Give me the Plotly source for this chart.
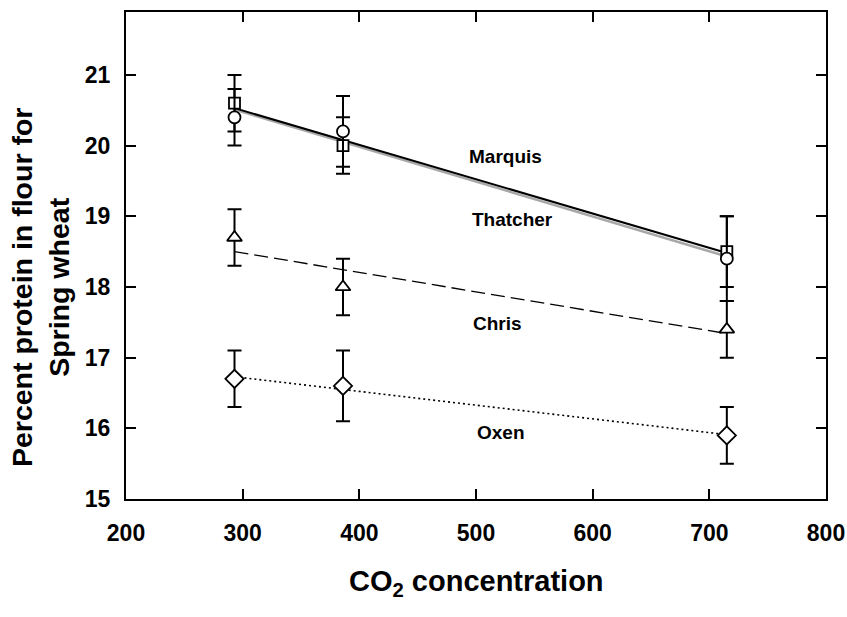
import plotly.graph_objects as go

co2 = [293, 386, 715]
fit_x = [293, 715]

marquis = [20.6, 20.0, 18.5]
marquis_err = [0.4, 0.4, 0.5]
marquis_fit = [20.53, 18.48]

thatcher = [20.4, 20.2, 18.4]
thatcher_err = [0.4, 0.5, 0.6]
thatcher_fit = [20.51, 18.43]

chris = [18.7, 18.0, 17.4]
chris_err = [0.4, 0.4, 0.4]
chris_fit = [18.50, 17.34]

oxen = [16.7, 16.6, 15.9]
oxen_err = [0.4, 0.5, 0.4]
oxen_fit = [16.73, 15.91]

x_ticks = [200, 300, 400, 500, 600, 700, 800]
y_ticks = [15, 16, 17, 18, 19, 20, 21]

labels = ["Marquis", "Thatcher", "Chris", "Oxen"]
label_x = [525, 531, 518, 521]
label_y = [19.84, 18.96, 17.49, 15.94]

FONT = "Liberation Sans, Arial, sans-serif"

fig = go.Figure()

# regression lines
fig.add_trace(go.Scatter(x=fit_x, y=thatcher_fit, mode="lines",
                         line=dict(color="#a8a8a8", width=2.5), hoverinfo="skip"))
fig.add_trace(go.Scatter(x=fit_x, y=marquis_fit, mode="lines",
                         line=dict(color="black", width=2), hoverinfo="skip"))
fig.add_trace(go.Scatter(x=fit_x, y=chris_fit, mode="lines",
                         line=dict(color="black", width=1.3, dash="14px,6px"), hoverinfo="skip"))
fig.add_trace(go.Scatter(x=fit_x, y=oxen_fit, mode="lines",
                         line=dict(color="black", width=1.6, dash="2px,3px"), hoverinfo="skip"))

def pts(y, err, symbol, size):
    return go.Scatter(
        x=co2, y=y, mode="markers",
        marker=dict(symbol=symbol, size=size, color="white",
                    line=dict(color="black", width=1.8)),
        error_y=dict(type="data", array=err, visible=True,
                     color="black", thickness=2, width=7),
    )

fig.add_trace(pts(marquis, marquis_err, "square", 11))
fig.add_trace(pts(thatcher, thatcher_err, "circle", 12))
fig.add_trace(pts(chris, chris_err, "triangle-up", 13))
fig.add_trace(pts(oxen, oxen_err, "diamond", 14))

for t, lx, ly in zip(labels, label_x, label_y):
    fig.add_annotation(x=lx, y=ly, text=f"<b>{t}</b>", showarrow=False,
                       font=dict(family=FONT, size=19, color="black"),
                       xanchor="center", yanchor="middle")

# axis titles
fig.add_annotation(xref="paper", yref="paper", x=-0.123, y=0.435,
                   text="<b>Percent protein in flour for<br>Spring wheat</b>",
                   textangle=-90, showarrow=False,
                   font=dict(family=FONT, size=28.5, color="black"),
                   xanchor="center", yanchor="middle")
fig.add_annotation(xref="paper", yref="paper", x=0.501, y=-0.172,
                   text="<b>CO<sub>2</sub> concentration</b>",
                   showarrow=False,
                   font=dict(family=FONT, size=29, color="black"),
                   xanchor="center", yanchor="middle")

axis_common = dict(showline=True, linecolor="black", linewidth=2, mirror="ticks",
                   ticks="inside", ticklen=10, tickwidth=2, tickcolor="black",
                   showgrid=False, zeroline=False, automargin=False,
                   tickfont=dict(family=FONT, size=23, color="black"))

fig.update_xaxes(range=[200, 800], tickvals=x_ticks,
                 ticktext=[f"<b>{v}</b>" for v in x_ticks],
                 ticklabelstandoff=12, **axis_common)
fig.update_yaxes(range=[15, 21.89], tickvals=y_ticks,
                 ticktext=[f"<b>{v}</b>" for v in y_ticks],
                 ticklabelstandoff=9, **axis_common)

fig.update_layout(
    width=847, height=617,
    margin=dict(l=126, r=21, t=12, b=118),
    plot_bgcolor="white", paper_bgcolor="white",
    showlegend=False,
    font=dict(family=FONT, color="black"),
)

fig.write_html("out.html", config={"displayModeBar": False},
               post_script="document.body.style.margin='0';document.body.style.overflow='hidden';")
